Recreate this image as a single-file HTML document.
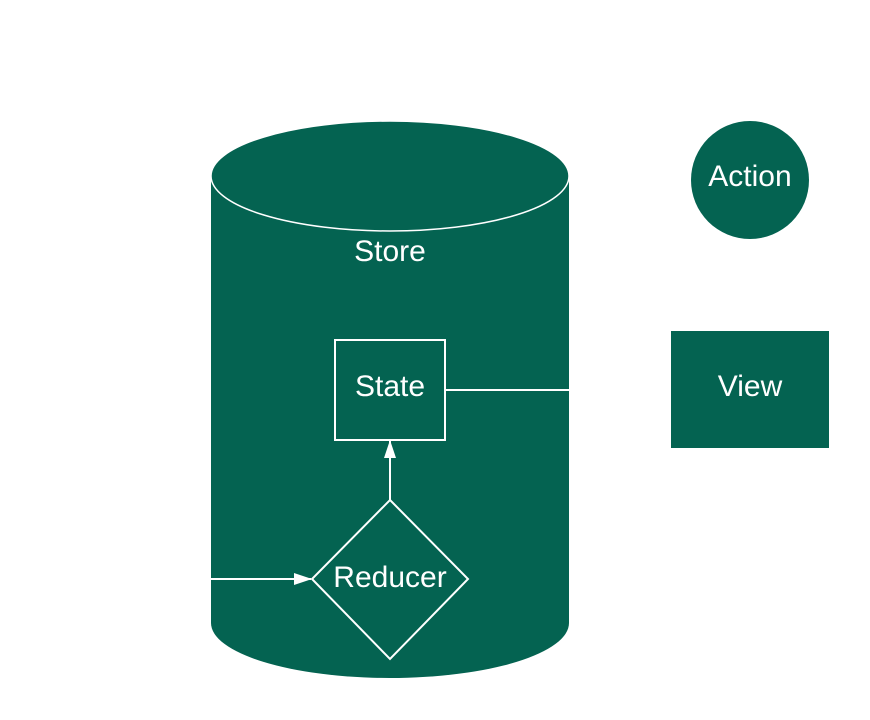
<!DOCTYPE html>
<html><head><meta charset="utf-8"><style>
html,body{margin:0;padding:0;background:#fff;width:870px;height:720px;overflow:hidden}
svg{display:block}
text{font-family:"Liberation Sans",sans-serif;fill:#fff;font-size:30px;text-anchor:middle}
</style></head><body>
<svg width="870" height="720" viewBox="0 0 870 720">
<defs><marker id="a" markerWidth="18" markerHeight="12" refX="17" refY="6" orient="auto" markerUnits="userSpaceOnUse"><path d="M0,0 L18,6 L0,12 Z" fill="#fff"/></marker></defs>
<path d="M211,176 L211,623 A179,55 0 0 0 569,623 L569,176 Z" fill="#046351"/>
<ellipse cx="390" cy="176" rx="179" ry="55" fill="#046351" stroke="#fff" stroke-width="1.5"/>
<text x="390" y="261">Store</text>
<rect x="335" y="340" width="110" height="100" fill="#046351" stroke="#fff" stroke-width="2"/>
<text x="390" y="396">State</text>
<line x1="445" y1="390" x2="569" y2="390" stroke="#fff" stroke-width="2"/>
<line x1="390" y1="500" x2="390" y2="441" stroke="#fff" stroke-width="2" marker-end="url(#a)"/>
<path d="M390,500 L468,579 L390,659 L312,579 Z" fill="#046351" stroke="#fff" stroke-width="2"/>
<text x="390" y="587">Reducer</text>
<line x1="211" y1="579" x2="311" y2="579" stroke="#fff" stroke-width="2" marker-end="url(#a)"/>
<circle cx="750" cy="180" r="59" fill="#046351"/>
<text x="750" y="186">Action</text>
<rect x="671" y="331" width="158" height="117" fill="#046351"/>
<text x="750" y="396">View</text>
</svg>
</body></html>
